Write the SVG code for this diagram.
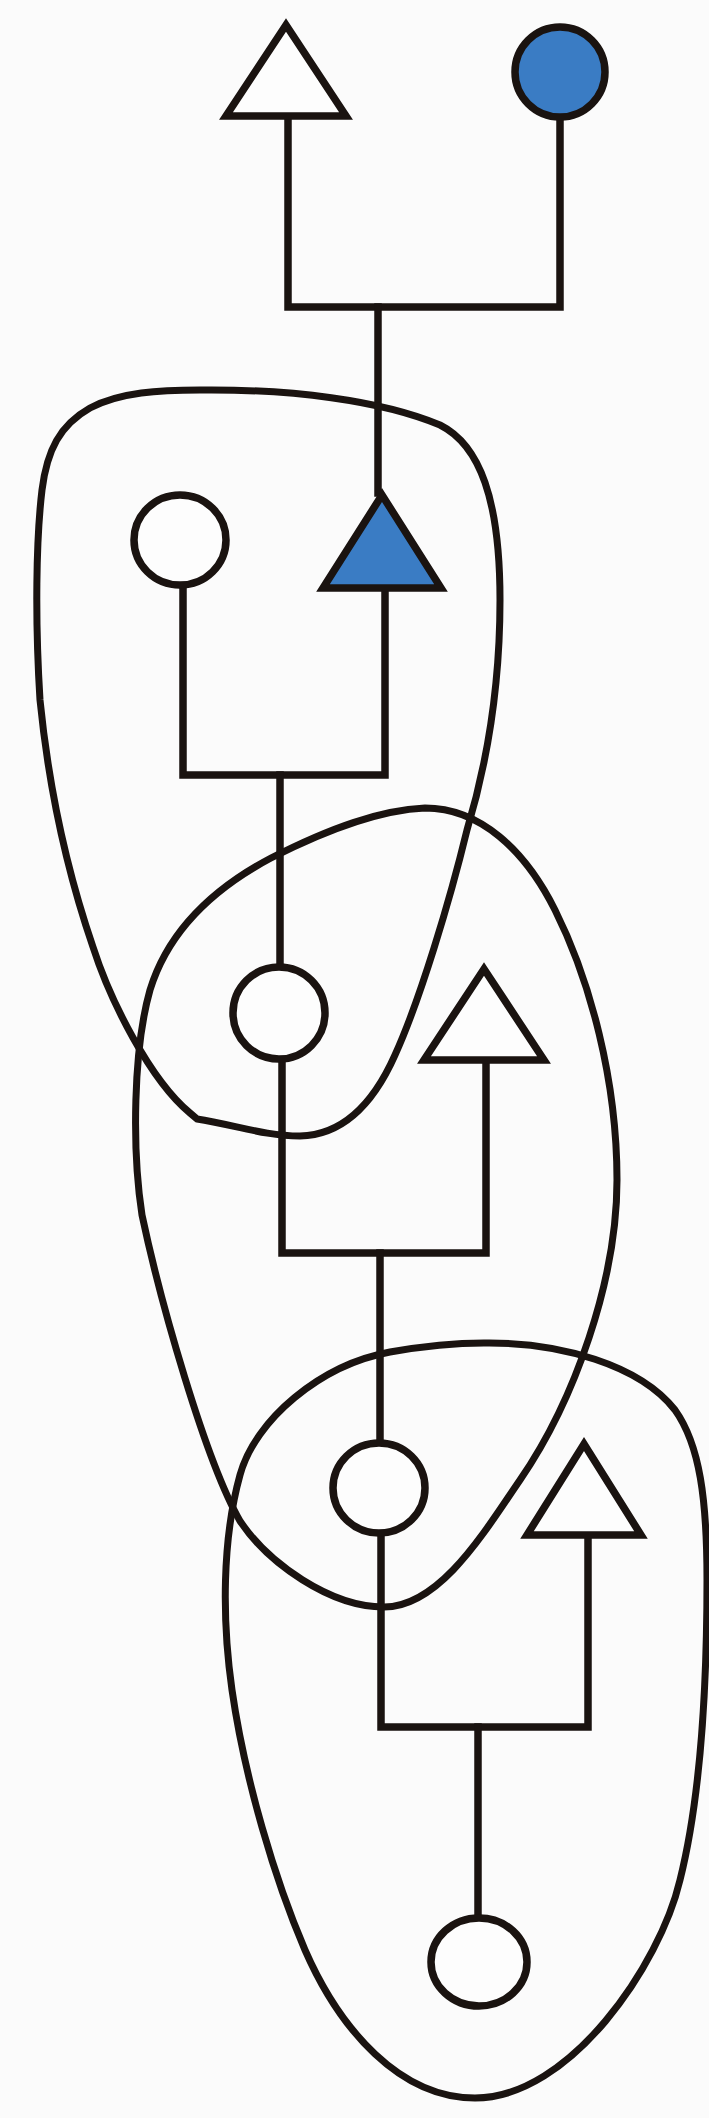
<svg xmlns="http://www.w3.org/2000/svg" width="709" height="2118" viewBox="0 0 709 2118">
<style>
.ln{fill:none;stroke:#1a1310;stroke-width:7.5;stroke-linejoin:miter;stroke-linecap:square}
.blob{fill:none;stroke:#1a1310;stroke-width:7}
.open{fill:#fdfdfd;stroke:#1a1310;stroke-width:7.5;stroke-linejoin:miter}
.aff{fill:#3a7cc4;stroke:#1a1310;stroke-width:7.5;stroke-linejoin:miter}
</style>
<rect width="709" height="2118" fill="#fbfbfb"/>
<g id="connectors">
<path class="ln" d="M288,118 V307 H560 V118"/>
<path class="ln" d="M378,307 V493"/>
<path class="ln" d="M183,586 V775 H385 V590"/>
<path class="ln" d="M280,775 V965"/>
<path class="ln" d="M282,1061 V1253 H486 V1062"/>
<path class="ln" d="M380,1253 V1441"/>
<path class="ln" d="M381,1536 V1727 H588 V1538"/>
<path class="ln" d="M478,1727 V1916"/>
</g>
<g id="groups">
<path id="blob1" class="blob" d="M200,390 C290,389 380,400 440,425 C480,445 500,500 500,600 C500,690 485,770 467,830 C450,900 420,1000 395,1055 C375,1100 345,1135 300,1136 C265,1136 235,1125 197,1119 L190,1113 C150,1080 110,1000 93,947 C70,880 50,800 40,700 C35,620 36,540 42,490 C47,450 60,425 90,408 C120,392 160,390 200,390 Z"/>
<path id="blob2" class="blob" d="M425,808 C480,808 525,850 555,910 C590,980 617,1080 617,1180 C617,1280 575,1400 520,1480 C485,1531 440,1607 384,1607 C330,1607 268,1563 240,1521 C205,1460 160,1300 142,1215 C132,1150 133,1050 150,990 C170,925 220,885 271,858 C330,828 380,810 425,808 Z"/>
<path id="blob3" class="blob" d="M484,1343 C560,1342 640,1365 675,1410 C700,1445 707,1500 707,1580 C707,1700 700,1800 680,1880 C660,1965 570,2098 475,2098 C400,2098 340,2030 305,1950 C275,1880 245,1780 232,1690 C222,1620 222,1540 240,1475 C255,1420 320,1365 390,1352 C430,1345 455,1343 484,1343 Z"/>
</g>
<g id="n1"><polygon class="open" points="286,25 346,116 226,116"/></g>
<g id="n2"><ellipse class="aff" cx="560" cy="72" rx="45" ry="45"/></g>
<g id="n3"><ellipse class="open" cx="180" cy="540" rx="46" ry="45"/></g>
<g id="n4"><polygon class="aff" points="382,495 441,588 323,588"/></g>
<g id="n5"><ellipse class="open" cx="279" cy="1013" rx="46" ry="46"/></g>
<g id="n6"><polygon class="open" points="484,969 544,1060 424,1060"/></g>
<g id="n7"><ellipse class="open" cx="379" cy="1488" rx="46" ry="45"/></g>
<g id="n8"><polygon class="open" points="584,1444 641,1535 527,1535"/></g>
<g id="n9"><ellipse class="open" cx="479" cy="1962" rx="48" ry="44"/></g>
</svg>
